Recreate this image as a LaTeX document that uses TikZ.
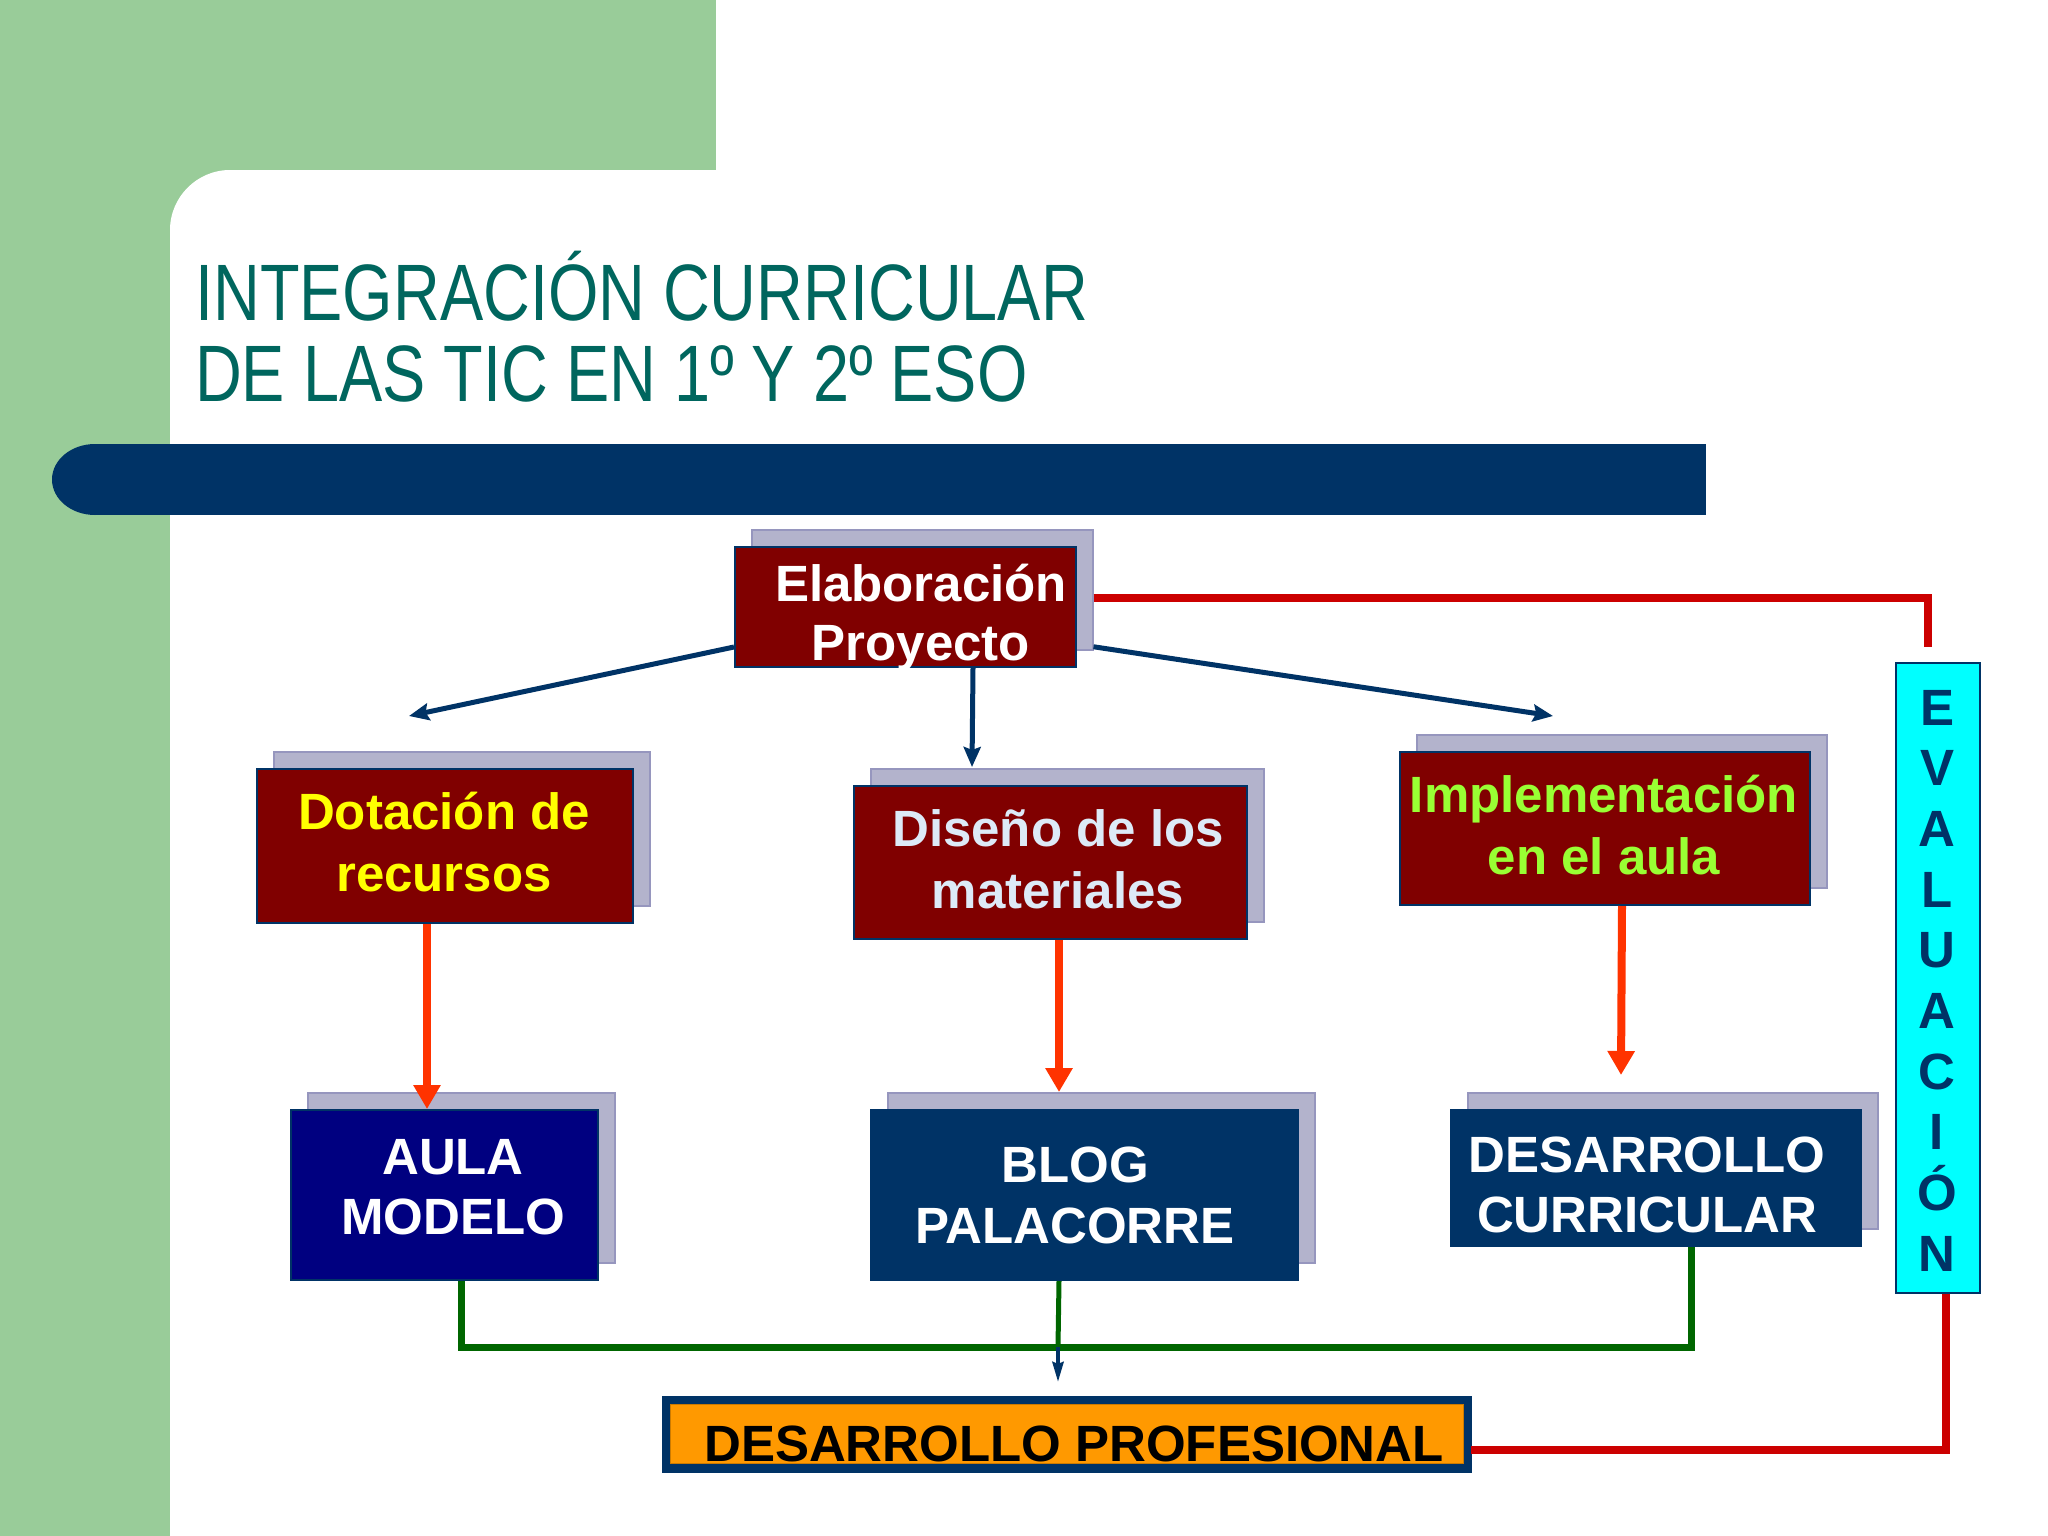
\documentclass[tikz,border=0pt]{standalone}
\usepackage{fontspec}
\setmainfont{Liberation Sans}
\newfontfamily\titlefont[FakeStretch=0.81]{Liberation Sans}
\usetikzlibrary{arrows.meta}
\definecolor{bggreen}{RGB}{153,204,153}
\definecolor{navy}{RGB}{0,51,102}
\definecolor{maroon}{RGB}{128,0,0}
\definecolor{shfill}{RGB}{179,179,204}
\definecolor{shedge}{RGB}{150,150,190}
\definecolor{deepblue}{RGB}{0,0,128}
\definecolor{orangebox}{RGB}{255,153,0}
\definecolor{cyanbox}{RGB}{0,255,255}
\definecolor{redline}{RGB}{204,0,0}
\definecolor{redarrow}{RGB}{255,51,0}
\definecolor{greenline}{RGB}{0,102,0}
\definecolor{yellowtxt}{RGB}{255,255,0}
\definecolor{limetxt}{RGB}{153,255,51}
\definecolor{palebluetxt}{RGB}{221,234,247}
\definecolor{titleteal}{RGB}{0,102,94}
\begin{document}
\begin{tikzpicture}[x=1pt,y=-1pt,
  shadowbox/.style={draw=shedge,fill=shfill,line width=1.5pt,inner sep=0pt,anchor=north west},
  frontbox/.style={draw=navy,fill=maroon,line width=2pt,inner sep=0pt,anchor=north west},
  bluebox/.style={draw=navy,fill=navy,line width=2pt,inner sep=0pt,anchor=north west},
  boxtext/.style={anchor=base,inner sep=0pt,font=\fontsize{51}{61}\selectfont\bfseries},
  navyarrow/.style={draw=navy,line width=5pt,-{Stealth[length=20pt,width=17pt,inset=3pt]}},
  redarr/.style={draw=redarrow,line width=8pt,-{Triangle[length=24pt,width=26pt]}},
  greenconn/.style={draw=greenline,line width=7pt,line join=miter},
  redconn/.style={draw=redline,line width=7.5pt,line join=miter},
  titletext/.style={anchor=base west,inner sep=0pt,text=titleteal,font=\titlefont\fontsize{80}{96}\selectfont}
]
\useasboundingbox (0,0) rectangle (2048,1536);
% background
\fill[white] (0,0) rectangle (2048,1536);
\fill[bggreen] (0,0) rectangle (716,170);
\fill[bggreen] (0,0) rectangle (170,1536);
\fill[bggreen] (0,0) rectangle (260,260);
\fill[white] (2048,170) -- (230,170) .. controls (197,170) and (170,197) .. (170,230) -- (170,1536) -- (2048,1536) -- cycle;
% title
\node[titletext] (t1) at (195,320) {INTEGRACIÓN CURRICULAR};
\node[titletext] (t2) at (195,401) {DE LAS TIC EN 1º Y 2º ESO};
% navy bar
\fill[navy] (95,444) rectangle (1706,515);
\fill[navy] (95,479.5) ellipse [x radius=43, y radius=35.5];

% Elaboracion Proyecto
\node[shadowbox,minimum width=341pt,minimum height=120pt] (elabsh) at (751,529) {};
\node[frontbox,minimum width=341pt,minimum height=120pt] (elab) at (734,546) {};
\node[boxtext,text=white] (elabt1) at (921,601) {Elaboración};
\node[boxtext,text=white] (elabt2) at (921,660) {Proyecto};

% Dotacion de recursos
\node[shadowbox,minimum width=376pt,minimum height=154pt] (dotsh) at (273,751) {};
\node[frontbox,minimum width=376pt,minimum height=154pt] (dot) at (256,768) {};
\node[boxtext,text=yellowtxt] (dott1) at (444,829) {Dotación de};
\node[boxtext,text=yellowtxt] (dott2) at (444,891) {recursos};

% Diseno de los materiales
\node[shadowbox,minimum width=393pt,minimum height=153pt] (dissh) at (870,768) {};
\node[frontbox,minimum width=393pt,minimum height=153pt] (dis) at (853,785) {};
\node[boxtext,text=palebluetxt] (dist1) at (1058,846) {Diseño de los};
\node[boxtext,text=palebluetxt] (dist2) at (1058,908) {materiales};

% Implementacion en el aula
\node[shadowbox,minimum width=410pt,minimum height=153pt] (impsh) at (1416,734) {};
\node[frontbox,minimum width=410pt,minimum height=153pt] (imp) at (1399,751) {};
\node[boxtext,text=limetxt] (impt1) at (1604,812) {Implementación};
\node[boxtext,text=limetxt] (impt2) at (1604,874) {en el aula};

% AULA MODELO
\node[shadowbox,minimum width=307pt,minimum height=170pt] (aulash) at (307,1092) {};
\node[bluebox,fill=deepblue,minimum width=307pt,minimum height=170pt] (aula) at (290,1109) {};
\node[boxtext,text=white] (aulat1) at (453,1174) {AULA};
\node[boxtext,text=white] (aulat2) at (453,1234) {MODELO};

% BLOG PALACORRE
\node[shadowbox,minimum width=427pt,minimum height=170pt] (blogsh) at (887,1092) {};
\node[bluebox,minimum width=427pt,minimum height=170pt] (blog) at (870,1109) {};
\node[boxtext,text=white] (blogt1) at (1075,1182) {BLOG};
\node[boxtext,text=white] (blogt2) at (1075,1243) {PALACORRE};

% DESARROLLO CURRICULAR
\node[shadowbox,minimum width=410pt,minimum height=136pt] (cursh) at (1467,1092) {};
\node[bluebox,minimum width=410pt,minimum height=136pt] (cur) at (1450,1109) {};
\node[boxtext,text=white] (curt1) at (1647,1172) {DESARROLLO};
\node[boxtext,text=white] (curt2) at (1647,1232) {CURRICULAR};

% EVALUACION
\node[draw=navy,fill=cyanbox,line width=2pt,inner sep=0pt,anchor=north west,minimum width=84pt,minimum height=630pt] (eval) at (1895,662) {};
\foreach \l [count=\i from 0] in {E,V,A,L,U,A,C,I,Ó,N}
  \node[boxtext,text=navy] (ev\i) at (1937,725+60.7*\i) {\l};

% DESARROLLO PROFESIONAL
\node[draw=navy,fill=navy,inner sep=0pt,anchor=north west,minimum width=809pt,minimum height=76pt] (prof) at (662,1396) {};
\node[draw=orangebox!80!black,line width=1pt,fill=orangebox,inner sep=0pt,anchor=north west,minimum width=793pt,minimum height=59pt] (profin) at (670,1404) {};
\node[boxtext,text=black] (proft) at (1074,1461) {DESARROLLO PROFESIONAL};

% connector end points
\coordinate (tipL) at (409,716);
\coordinate (tipM) at (972,767);
\coordinate (tipR) at (1553,716);
\coordinate (tipImp) at (1621,1075);
\coordinate (hub) at (1058,1347);
\coordinate (tipProf) at (1058,1382);
\coordinate (evtop) at (1928,647);

% navy arrows from Elaboracion
\draw[navyarrow] ([yshift=-40pt]elab.west) -- (tipL);
\draw[navyarrow] ([xshift=67.5pt]elab.south) -- (tipM);
\draw[navyarrow] ([yshift=-57pt]elabsh.east) -- (tipR);

% red-orange arrows
\draw[redarr] ([xshift=-18pt]dot.south) -- ([xshift=-18pt]dot.south |- aula.north);
\draw[redarr] ([xshift=8.5pt]dis.south) -- ([xshift=8.5pt]dis.south |- blogsh.north);
\draw[redarr] ([xshift=17pt]imp.south) -- (tipImp);

% green connectors
\draw[greenconn] ([xshift=16.5pt]aula.south) |- (hub) -| ([xshift=35pt]cur.south);
\draw[draw=greenline,line width=5pt] ([xshift=-25.5pt]blog.south) -- (hub);
\draw[draw=navy,line width=4pt,-{Stealth[length=20pt,width=11pt,inset=2pt]}] (hub) -- (tipProf);

% red evaluation loop
\draw[redconn] ([yshift=-8pt]elabsh.east) -| (evtop);
\draw[redconn] ([xshift=8pt]eval.south) |- ([yshift=-16pt]prof.east);
\end{tikzpicture}
\end{document}
